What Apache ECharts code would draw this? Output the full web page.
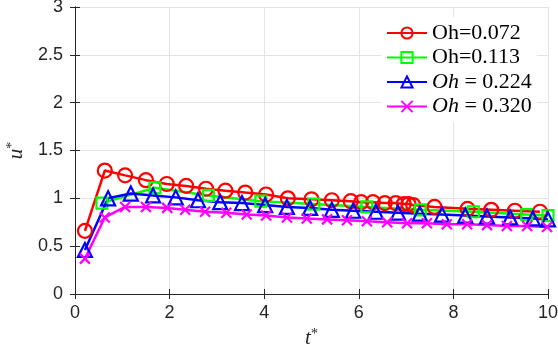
<!DOCTYPE html>
<html>
<head>
<meta charset="utf-8">
<script src="https://cdn.jsdelivr.net/npm/echarts@6/dist/echarts.min.js"></script>
<style>html,body{margin:0;padding:0;background:#fff}#c{width:558px;height:356px}</style>
</head>
<body>
<div id="c"></div>
<script>
const seriesNames = ['Oh=0.072', 'Oh=0.113', 'Oh = 0.224', 'Oh = 0.320'];
const xTicks = [0, 2, 4, 6, 8, 10];
const yTicks = [0, 0.5, 1, 1.5, 2, 2.5, 3];

const redX = [0.21, 0.63, 1.06, 1.5, 1.94, 2.35, 2.77, 3.18, 3.6, 4.04, 4.5, 5.0, 5.43, 5.83, 6.05, 6.3, 6.55, 6.78, 6.95, 7.05, 7.15, 7.6, 8.3, 8.8, 9.3, 9.83];
const redY = [0.66, 1.29, 1.24, 1.19, 1.15, 1.13, 1.10, 1.08, 1.06, 1.04, 1.00, 0.99, 0.98, 0.97, 0.96, 0.96, 0.95, 0.95, 0.94, 0.94, 0.93, 0.91, 0.89, 0.88, 0.87, 0.86];

const greenX = [0.57, 1.69, 2.82, 3.93, 5.05, 6.17, 7.3, 8.42, 9.55, 10];
const greenY = [0.95, 1.11, 1.03, 0.97, 0.94, 0.91, 0.88, 0.86, 0.83, 0.82];

const blueX = [0.21, 0.7, 1.18, 1.65, 2.13, 2.6, 3.07, 3.53, 4.02, 4.48, 4.97, 5.43, 5.88, 6.36, 6.83, 7.29, 7.76, 8.25, 8.71, 9.2, 9.68, 10];
const blueY = [0.46, 1.00, 1.05, 1.03, 1.01, 0.98, 0.96, 0.95, 0.93, 0.91, 0.90, 0.88, 0.87, 0.86, 0.85, 0.84, 0.83, 0.82, 0.81, 0.80, 0.79, 0.78];

const magX = [0.21, 0.63, 1.06, 1.5, 1.95, 2.33, 2.75, 3.2, 3.63, 4.04, 4.48, 4.9, 5.33, 5.75, 6.17, 6.6, 7.02, 7.44, 7.86, 8.29, 8.71, 9.13, 9.56, 9.98];
const magY = [0.37, 0.80, 0.91, 0.91, 0.90, 0.88, 0.86, 0.85, 0.83, 0.82, 0.80, 0.79, 0.78, 0.77, 0.76, 0.75, 0.74, 0.74, 0.73, 0.73, 0.72, 0.71, 0.71, 0.70];

const colors = ['#ff0000', '#00ff00', '#0000ff', '#ff00ff'];

function pairs(xs, ys) { return xs.map((x, i) => [x, ys[i]]); }

const chart = echarts.init(document.getElementById('c'), null, {renderer: 'canvas'});
const axisColor = '#262626';
const labelFont = {fontFamily: 'Liberation Sans, Arial, sans-serif', fontSize: 18, color: axisColor};

function mkSeries(name, data, color, symbol, size) {
  return {
    name: name, type: 'line', data: data, xAxisIndex: 0, yAxisIndex: 0,
    symbol: symbol, symbolSize: size, showAllSymbol: true,
    lineStyle: {color: color, width: 2.5},
    itemStyle: {color: 'rgba(0,0,0,0)', borderColor: color, borderWidth: 2.2},
    emphasis: {disabled: true},
    animation: false, z: 3
  };
}

const option = {
  animation: false,
  grid: {left: 75, right: 10, top: 7, bottom: 62, show: false, containLabel: false, outerBoundsMode: 'none'},
  xAxis: [
    {type: 'value', min: 0, max: 10, interval: 2, position: 'bottom',
     axisLine: {show: true, lineStyle: {color: axisColor, width: 1}},
     axisTick: {show: true, inside: true, length: 5, lineStyle: {color: axisColor}},
     axisLabel: Object.assign({margin: 10, formatter: v => xTicks.includes(v) ? String(v) : ''}, labelFont),
     splitLine: {show: true, lineStyle: {color: '#e3e3e3', width: 1}},
     name: '{a|t}{s|*}', nameLocation: 'middle', nameGap: 33,
     nameTextStyle: {rich: {a: {fontFamily: 'Liberation Serif, serif', fontStyle: 'italic', fontSize: 21, color: axisColor},
                            s: {fontFamily: 'Liberation Serif, serif', fontSize: 14, color: axisColor, verticalAlign: 'top', padding: [0, 0, 8, 0]}}}},
    {type: 'value', min: 0, max: 10, interval: 2, position: 'top',
     axisLine: {show: true, lineStyle: {color: axisColor, width: 1}},
     axisTick: {show: true, inside: true, length: 5, lineStyle: {color: axisColor}},
     axisLabel: {show: false}, splitLine: {show: false}}
  ],
  yAxis: [
    {type: 'value', min: 0, max: 3, interval: 0.5, position: 'left',
     axisLine: {show: true, lineStyle: {color: axisColor, width: 1}},
     axisTick: {show: true, inside: true, length: 5, lineStyle: {color: axisColor}},
     axisLabel: Object.assign({margin: 12, formatter: v => String(v)}, labelFont),
     splitLine: {show: true, lineStyle: {color: '#e3e3e3', width: 1}},
     name: '{a|u}{s|*}', nameLocation: 'middle', nameGap: 46, nameRotate: 90,
     nameTextStyle: {rich: {a: {fontFamily: 'Liberation Serif, serif', fontStyle: 'italic', fontSize: 21, color: axisColor},
                            s: {fontFamily: 'Liberation Serif, serif', fontSize: 14, color: axisColor, verticalAlign: 'top', padding: [0, 0, 8, 0]}}}},
    {type: 'value', min: 0, max: 3, interval: 0.5, position: 'right',
     axisLine: {show: true, lineStyle: {color: axisColor, width: 1}},
     axisTick: {show: true, inside: true, length: 5, lineStyle: {color: axisColor}},
     axisLabel: {show: false}, splitLine: {show: false}}
  ],
  legend: {
    orient: 'vertical', left: 381, top: 17, padding: 5,
    backgroundColor: '#ffffff', borderWidth: 0,
    itemWidth: 40, itemHeight: 14, itemGap: 2.5,
    data: seriesNames,
    formatter: function (name) {
      if (name.indexOf(' = ') >= 0) { return '{i|Oh}{n|' + name.slice(2) + '}'; }
      return '{n|' + name + '}';
    },
    textStyle: {
      fontFamily: 'Liberation Serif, serif', fontSize: 22, color: '#000', lineHeight: 22,
      rich: {
        i: {fontFamily: 'Liberation Serif, serif', fontStyle: 'italic', fontSize: 22, color: '#000', lineHeight: 22},
        n: {fontFamily: 'Liberation Serif, serif', fontSize: 22, color: '#000', lineHeight: 22}
      }
    }
  },
  series: [
    mkSeries(seriesNames[0], pairs(redX, redY), colors[0], 'circle', 14),
    mkSeries(seriesNames[1], pairs(greenX, greenY), colors[1], 'rect', 11),
    mkSeries(seriesNames[2], pairs(blueX, blueY), colors[2], 'triangle', 14),
    mkSeries(seriesNames[3], pairs(magX, magY), colors[3], 'path://M0,0L10,10M10,0L0,10', 10)
  ]
};
chart.setOption(option);
</script>
</body>
</html>
